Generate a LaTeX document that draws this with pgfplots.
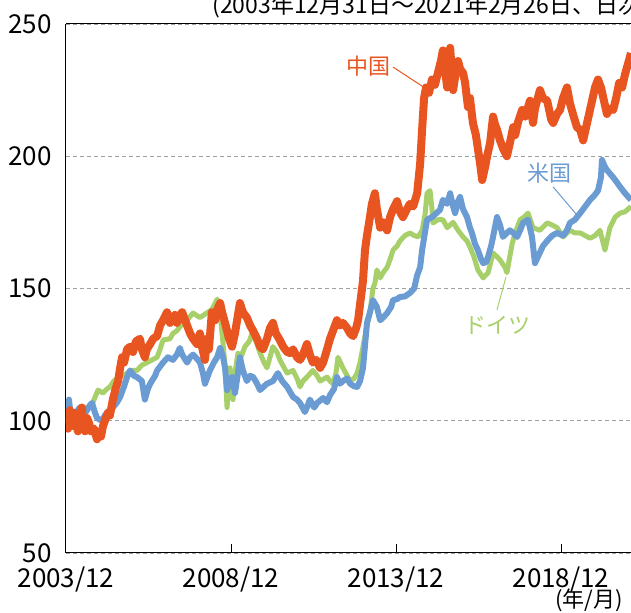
\documentclass[border=0pt]{standalone}
\usepackage{fontspec}
\setmainfont{Noto Sans CJK JP}
\usepackage{pgfplots}
\pgfplotsset{compat=1.18}

\definecolor{cnorange}{HTML}{E95520}
\definecolor{usblue}{HTML}{6A9BD2}
\definecolor{degreen}{HTML}{A8D06A}
\definecolor{gridgray}{HTML}{A0A0A0}

% x = years since 2003/12/31
\pgfplotstableread{
t v
0.00 99
0.12 101
0.24 102
0.42 103
0.55 105
0.73 105
0.85 108
0.97 111.6
1.12 110.5
1.24 112
1.33 112.8
1.45 115
1.58 116.5
1.70 117
1.85 118
2.00 119
2.15 119
2.30 121
2.45 122
2.61 123
2.76 124
2.85 127
2.94 130.5
3.15 131
3.24 133
3.36 134
3.48 136
3.61 137
3.73 139
3.85 140.7
4.06 139
4.18 140
4.30 141
4.42 142
4.58 146
4.67 140.7
4.76 129
4.82 120
4.88 105
4.94 115
4.97 120
5.06 108
5.12 118
5.21 125.6
5.30 124
5.42 128
5.55 130
5.64 133
5.76 130
5.88 125.6
6.00 122
6.09 120
6.18 124
6.27 128
6.39 126
6.48 123
6.61 120
6.70 118
6.88 119
7.00 116
7.09 112.8
7.18 115
7.30 116.5
7.48 119
7.61 117
7.70 115
7.91 116.5
8.00 115
8.09 114
8.18 118
8.24 124
8.39 120
8.52 117
8.61 115
8.73 116
8.82 118
8.91 122
9.00 128
9.12 136
9.21 140.7
9.30 150
9.36 152
9.42 157
9.52 154
9.61 156
9.73 158
9.82 161
9.91 164.5
10.03 166
10.12 168
10.27 170
10.42 171
10.55 170
10.67 169.5
10.79 172
10.88 178
10.94 186
11.03 187
11.09 180
11.12 174.8
11.27 176
11.42 176
11.55 173
11.73 175
11.88 172
12.03 169.5
12.15 168
12.24 165.7
12.36 162
12.48 157
12.64 154
12.79 156
12.94 163.4
13.06 162
13.15 160.8
13.30 158
13.36 156
13.52 167
13.61 171
13.76 176
13.88 177
14.00 178.5
14.15 173
14.36 172
14.58 174.8
14.73 174
14.88 173
15.06 169.5
15.27 172
15.42 171
15.58 171
15.73 170
15.88 169
16.03 170
16.18 172
16.33 164.5
16.48 173
16.64 177
16.79 178.5
16.94 179
17.12 181
}\germany

\pgfplotstableread{
t v
0.00 100
0.06 104
0.09 108
0.15 101
0.21 99
0.30 103
0.42 105
0.52 102
0.64 104
0.73 106
0.79 106.7
0.88 103
0.94 101
1.09 100
1.18 102
1.24 103
1.42 105
1.55 107
1.64 109
1.76 113
1.85 116.5
1.94 119
2.06 117
2.15 116.5
2.30 115
2.39 108
2.48 112
2.55 114
2.70 117
2.76 119
2.94 122
3.09 124
3.24 123
3.36 125
3.45 127.5
3.52 125
3.67 122
3.76 124
3.85 125
4.00 123
4.06 122
4.15 118
4.21 114
4.36 119
4.48 122
4.58 124
4.67 127.5
4.76 124
4.82 120
4.88 111.6
4.97 115
5.03 116.5
5.12 110.5
5.21 118
5.27 124
5.36 119
5.48 115
5.58 117
5.67 116.5
5.79 114
5.88 111.6
6.00 113
6.09 114
6.27 115
6.42 118
6.55 115
6.70 112.8
6.88 109
7.00 108
7.09 106.7
7.24 103.3
7.33 106
7.39 108
7.52 105
7.61 106.7
7.79 108.6
7.91 107
8.00 109.7
8.12 112
8.21 116.5
8.30 114
8.39 115
8.52 116
8.61 114
8.73 113
8.82 112.8
8.91 115
9.00 120
9.12 137
9.21 141
9.30 145.6
9.42 143
9.52 138
9.61 139
9.73 140.7
9.85 143
9.91 145.6
10.03 146
10.12 146.8
10.27 147
10.42 148.3
10.55 150
10.64 155
10.73 158
10.79 164.5
10.94 176
11.09 177
11.18 178
11.33 179.7
11.42 183.5
11.55 182
11.64 186
11.73 181
11.79 178.5
11.88 183
11.94 184.6
12.03 180
12.15 177
12.24 173
12.30 171
12.39 167
12.48 164.5
12.58 161
12.64 159.6
12.73 160
12.79 162
12.88 166
12.94 169.5
13.06 177
13.15 174
13.24 169.5
13.36 171
13.45 172
13.55 171
13.67 169.5
13.76 172
13.85 174.8
14.00 176
14.12 169.5
14.21 159.6
14.30 162
14.45 166
14.58 168
14.73 170
14.88 171
15.06 170
15.18 172
15.27 174.8
15.42 176
15.58 178.5
15.73 181
15.88 183.5
16.00 185
16.12 187
16.21 192
16.24 198.6
16.33 196
16.39 194.8
16.58 192
16.70 190
16.79 188.4
16.94 186
17.12 183.5
}\usa

\pgfplotstableread{
t v
0.00 100
0.06 97
0.12 104
0.18 98
0.24 103
0.30 99
0.36 96
0.42 101
0.48 105
0.52 99
0.58 96
0.64 101
0.70 99
0.76 96
0.85 97
0.94 93
1.00 95
1.06 94
1.12 98
1.18 100
1.27 103
1.33 102
1.42 108
1.50 112
1.58 115
1.64 120
1.70 124
1.76 122
1.85 127
1.94 128
2.03 126
2.12 130
2.24 131
2.30 127
2.39 124
2.45 127
2.55 129
2.64 131
2.76 132
2.85 136
2.94 138
3.06 141
3.15 137
3.24 139
3.30 140
3.36 137
3.45 140
3.52 141
3.61 138
3.70 135
3.76 133
3.85 131
3.97 129
4.06 133
4.12 128
4.21 123
4.27 131
4.33 127
4.42 141
4.52 138
4.58 142
4.67 144.5
4.73 141
4.82 137
4.88 134
4.94 131
5.03 128
5.12 133
5.21 140
5.27 144.5
5.36 141
5.48 139
5.58 136
5.67 134
5.79 131
5.88 128
5.97 127
6.09 131
6.18 135
6.27 137
6.36 133
6.48 130.5
6.58 128
6.70 126
6.79 125.6
6.88 127
7.00 124
7.09 123
7.18 125
7.30 129
7.39 125
7.48 122
7.58 123
7.70 120
7.79 122
7.91 127
8.00 131
8.09 134
8.21 138
8.30 136
8.39 137
8.52 135
8.61 133
8.70 132
8.79 135
8.85 138
8.91 144
8.97 150
9.00 153
9.06 164.5
9.12 170
9.21 177
9.27 182
9.36 186
9.42 180
9.52 173
9.61 175
9.73 172
9.82 177
9.91 180
10.03 183
10.12 179
10.21 177
10.33 180
10.42 182
10.52 181
10.64 186
10.73 197
10.79 210
10.85 222
10.91 226
11.00 224
11.09 229
11.18 227
11.27 231.5
11.36 236
11.42 240
11.48 233
11.55 226
11.64 241
11.73 225
11.79 230
11.88 236
11.94 233
12.03 231.5
12.09 228
12.18 218.6
12.24 222
12.33 212.6
12.42 208
12.55 197
12.61 191
12.70 196
12.76 200
12.85 205
12.94 215
13.00 212
13.06 210
13.15 206
13.24 203
13.36 200
13.45 205
13.55 211
13.61 208
13.70 213
13.82 217.5
13.91 215
14.06 221
14.15 212.6
14.21 218
14.36 225
14.45 222
14.58 221
14.70 214
14.76 212.6
14.88 216
14.97 217.5
15.06 222
15.18 226
15.27 220
15.36 216
15.48 211
15.58 210
15.67 206
15.76 211
15.85 216
15.94 221
16.03 226
16.12 229
16.21 226
16.30 221
16.39 216
16.48 218
16.58 217.5
16.67 222
16.76 227.7
16.85 226
16.94 231
17.03 235
17.12 239
}\china

\begin{document}
\begin{tikzpicture}
\begin{axis}[
    scale only axis,
    width=282.5pt,
    height=264.5pt,
    xmin=0, xmax=17.12,
    ymin=50, ymax=250,
    axis lines*=left,
    axis line style={black, line width=0.5pt},
    xtick={0,5,10,15},
    xticklabels={2003/12,2008/12,2013/12,2018/12},
    ytick={50,100,...,250},
    tick align=inside,
    major tick length=4.5pt,
    xtick style={black, line width=0.5pt},
    ytick style={draw=none},
    ymajorgrids,
    grid style={gridgray, dashed, line width=0.6pt, dash pattern=on 2pt off 1.5pt},
    tick label style={font=\fontsize{13}{15}\selectfont, inner sep=0pt},
    xticklabel style={anchor=north, yshift=-6.5pt},
    yticklabel style={anchor=east, xshift=-7pt},
    /pgf/number format/assume math mode=true,
    clip mode=individual,
    line join=round,
]
\addplot[degreen, line width=2.5pt] table[x=t, y=v] {\germany};
\addplot[usblue, line width=3pt] table[x=t, y=v] {\usa};
\addplot[cnorange, line width=4pt] table[x=t, y=v] {\china};

\draw[black, line width=0.5pt] (rel axis cs:0,1) -- (rel axis cs:1,1);

\node[cnorange, font=\fontsize{11}{13}\selectfont] at (axis cs:9.18,234.1) {中国};
\draw[cnorange, line width=0.5pt] (axis cs:9.91,233.7) -- (axis cs:10.88,225.8);
\node[usblue, font=\fontsize{11}{13}\selectfont] at (axis cs:14.64,193.7) {米国};
\draw[usblue, line width=0.5pt] (axis cs:14.76,188.4) -- (axis cs:15.48,177.8);
\node[degreen, font=\fontsize{11}{13}\selectfont] at (axis cs:13.06,136.2) {ドイツ};
\draw[degreen, line width=0.5pt] (axis cs:13.06,141.9) -- (axis cs:13.33,154.3);

\node[anchor=base west, inner sep=0pt, font=\fontsize{11.5}{13}\selectfont] at (axis cs:4.42,253.8) {(2003年12月31日～2021年2月26日、日次)};
\node[font=\fontsize{11}{13}\selectfont] at (axis cs:15.85,32.2) {(年/月)};

\coordinate (SW) at (rel axis cs:0,0);
\coordinate (NE) at (rel axis cs:1,1);
\end{axis}
\pgfresetboundingbox
\path[use as bounding box] ([shift={(-33pt,-30pt)}]SW) rectangle ([shift={(0pt,12pt)}]NE);
\end{tikzpicture}
\end{document}
